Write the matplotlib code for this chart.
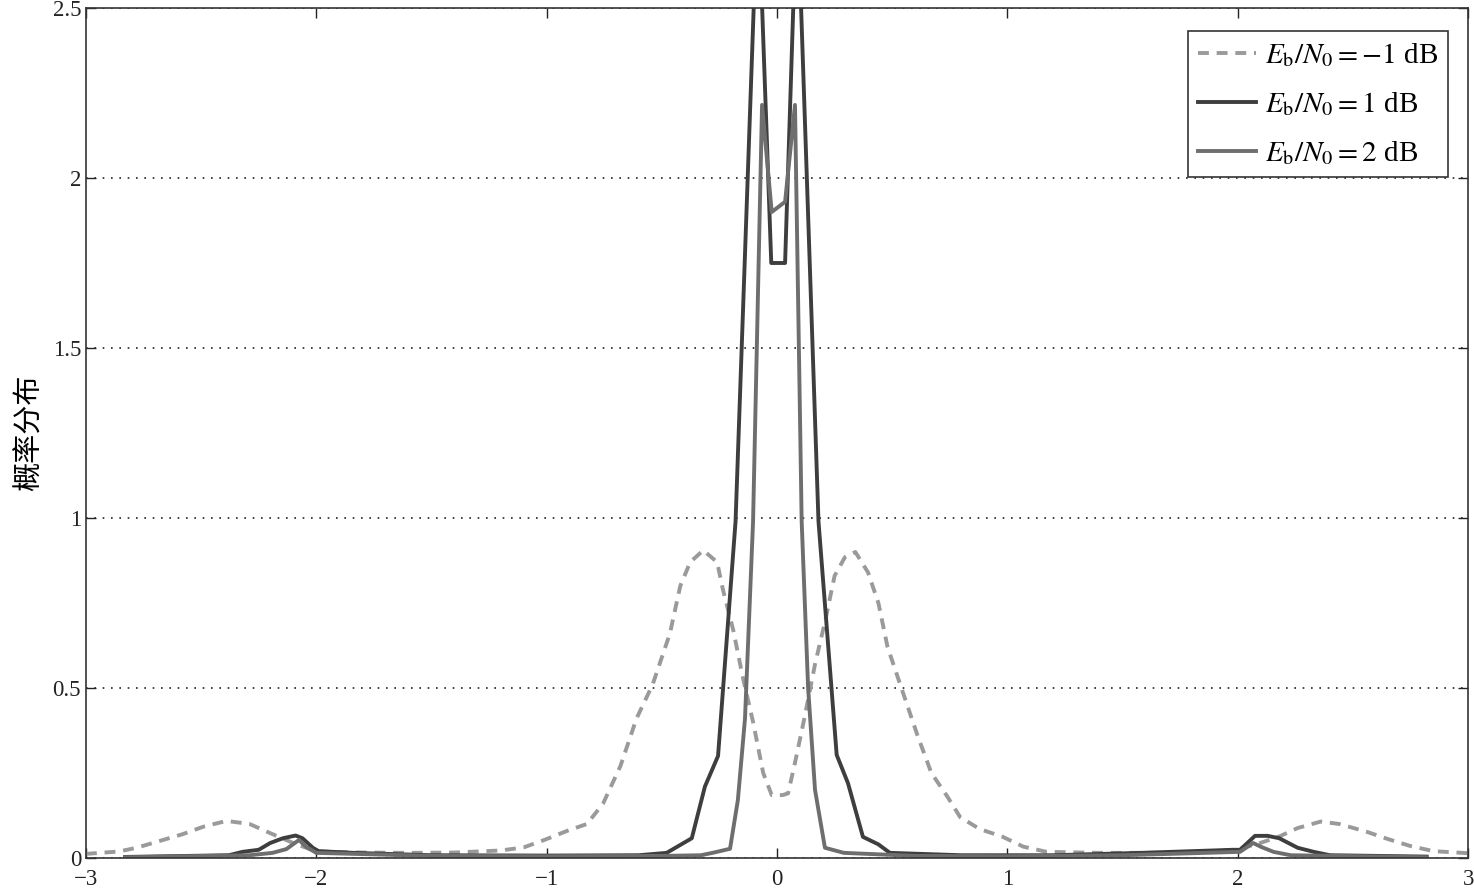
import numpy as np
import matplotlib
matplotlib.use("Agg")
from matplotlib import pyplot as plt
from matplotlib.ticker import FormatStrFormatter

plt.rcParams['font.family'] = ['Liberation Serif', 'DejaVu Serif']
plt.rcParams['mathtext.fontset'] = 'stix'

# Eb/N0 = -1 dB (dashed)
x_m1 = [-3.0, -2.857, -2.78, -2.68, -2.58, -2.49, -2.39, -2.29, -2.20, -2.10,
        -2.0, -1.8, -1.6, -1.4, -1.2, -1.10, -1.01, -0.91, -0.825, -0.755,
        -0.68, -0.61, -0.54, -0.465, -0.42, -0.377, -0.32, -0.26, -0.235, -0.19,
        -0.148, -0.104, -0.06, -0.023, 0.025, 0.048, 0.078, 0.12, 0.165, 0.21,
        0.25, 0.295, 0.34, 0.395, 0.44, 0.48, 0.54, 0.61, 0.67, 0.74,
        0.795, 0.88, 0.977, 1.07, 1.17, 1.4, 1.6, 1.8, 1.98, 2.08,
        2.18, 2.26, 2.36, 2.44, 2.56, 2.65, 2.75, 2.85, 2.95, 3.0]
y_m1 = [0.012, 0.019, 0.03, 0.05, 0.07, 0.092, 0.109, 0.10, 0.073, 0.044,
        0.019, 0.016, 0.015, 0.016, 0.022, 0.031, 0.053, 0.08, 0.10, 0.16,
        0.27, 0.41, 0.51, 0.66, 0.80, 0.87, 0.905, 0.87, 0.79, 0.67,
        0.53, 0.40, 0.25, 0.185, 0.185, 0.19, 0.28, 0.415, 0.57, 0.70,
        0.83, 0.885, 0.90, 0.84, 0.75, 0.62, 0.50, 0.36, 0.25, 0.18,
        0.12, 0.085, 0.063, 0.033, 0.018, 0.015, 0.015, 0.016, 0.024, 0.04,
        0.063, 0.088, 0.107, 0.10, 0.077, 0.056, 0.035, 0.02, 0.016, 0.014]

# Eb/N0 = 1 dB
x_1 = [-2.83, -2.38, -2.32, -2.25, -2.2, -2.145, -2.09, -2.06, -2.015, -1.99,
       -1.84, -1.5, -1.0, -0.6, -0.479, -0.37, -0.313, -0.256, -0.18, -0.083,
       -0.025, 0.035, 0.087, 0.18, 0.259, 0.308, 0.373, 0.44, 0.49, 0.8,
       1.2, 1.58, 1.98, 2.01, 2.075, 2.13, 2.18, 2.26, 2.33, 2.40, 2.82]
y_1 = [0.003, 0.008, 0.018, 0.024, 0.044, 0.058, 0.066, 0.058, 0.03, 0.02,
       0.015, 0.008, 0.007, 0.008, 0.015, 0.058, 0.21, 0.30, 0.99, 2.85,
       1.75, 1.75, 2.85, 0.99, 0.303, 0.22, 0.062, 0.04, 0.015, 0.008,
       0.008, 0.015, 0.024, 0.024, 0.065, 0.065, 0.058, 0.03, 0.018, 0.008, 0.004]

# Eb/N0 = 2 dB
x_2 = [-2.83, -2.29, -2.19, -2.13, -2.075, -2.045, -2.0, -1.5, -1.0, -0.5,
       -0.33, -0.28, -0.204, -0.17, -0.139, -0.104, -0.065, -0.023, 0.035, 0.078,
       0.107, 0.135, 0.165, 0.208, 0.29, 0.6, 1.0, 1.5, 2.01, 2.067,
       2.10, 2.155, 2.23, 2.82]
y_2 = [0.002, 0.008, 0.015, 0.026, 0.053, 0.033, 0.015, 0.006, 0.005, 0.006,
       0.008, 0.015, 0.027, 0.17, 0.41, 0.99, 2.215, 1.90, 1.93, 2.215,
       0.99, 0.50, 0.20, 0.03, 0.015, 0.006, 0.005, 0.008, 0.018, 0.044,
       0.033, 0.018, 0.008, 0.002]

labels = [r'$E_\mathrm{b}/N_0 = -1$ dB', r'$E_\mathrm{b}/N_0 = 1$ dB', r'$E_\mathrm{b}/N_0 = 2$ dB']

fig = plt.figure(figsize=(14.74, 8.90), dpi=100)
ax = fig.add_axes([0.0583, 0.036, 0.9377, 0.955])

ax.plot(x_m1, y_m1, color='#9a9a9a', lw=2.8, ls=(0, (2.8, 2.0)), label=labels[0])
ax.plot(x_1, y_1, color='#3e3e3e', lw=2.8, label=labels[1])
ax.plot(x_2, y_2, color='#6e6e6e', lw=2.8, label=labels[2])

ax.set_xlim(-3, 3)
ax.set_ylim(0, 2.5)
ax.set_xticks(np.arange(-3, 4, 1))
ax.set_yticks(np.arange(0, 3.0, 0.5))
ax.yaxis.set_major_formatter(FormatStrFormatter('%g'))
ax.tick_params(direction='in', top=True, right=True, labelsize=16.5, length=7, width=1, colors='#222222')
ax.tick_params(axis='x', pad=8)
for sp in ax.spines.values():
    sp.set_color('#333333')
    sp.set_linewidth(1.2)
ax.yaxis.grid(True, ls=(0, (1, 4)), color='#222222', lw=1.2)

ax.set_ylabel('概率分布', fontsize=21, family=['Noto Sans CJK SC', 'DejaVu Sans'], labelpad=6)

leg = ax.legend(loc='upper right', bbox_to_anchor=(0.9855, 0.973), fontsize=21, frameon=True,
                fancybox=False, handlelength=2.0, handletextpad=0.3, borderpad=0.35,
                labelspacing=0.72, borderaxespad=0)
leg.get_frame().set_edgecolor('#333333')
leg.get_frame().set_linewidth(1.2)
leg.get_frame().set_alpha(1)

fig.savefig('out.png', dpi=100)
